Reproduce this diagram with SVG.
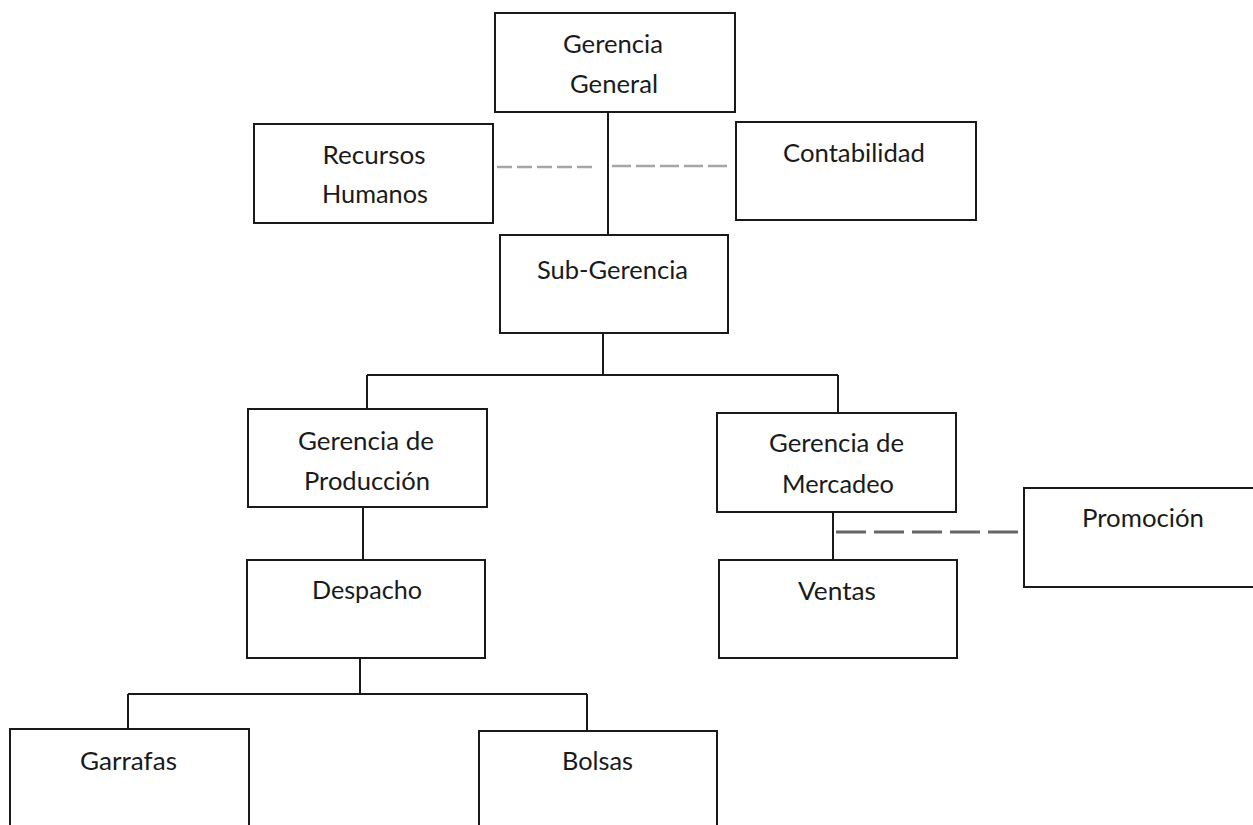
<svg xmlns="http://www.w3.org/2000/svg" width="1253" height="825" viewBox="0 0 1253 825">
<style>
.box{fill:#fff;stroke:#1a1a1a;stroke-width:2}
.t{font-family:Lato,"Open Sans","DejaVu Sans",sans-serif;font-size:25px;fill:#1a1a1a;text-anchor:middle}
.ln{stroke:#1a1a1a;stroke-width:2;fill:none}
.dl{stroke:#a6a6a6;stroke-width:2.5;fill:none}
.dd{stroke:#666;stroke-width:3;fill:none;stroke-dasharray:30 8}
</style>
<rect width="1253" height="825" fill="#fff"/>
<g id="connectors">
<path class="ln" d="M608 112V235"/>
<path class="ln" d="M603 333V375M367 375H838M367 375V409M838 375V413"/>
<path class="ln" d="M363 507V560"/>
<path class="ln" d="M833 512V560"/>
<path class="ln" d="M360 658V694M128 694H587M128 694V729M587 694V731"/>
<path class="dl" d="M497 167H595" stroke-dasharray="15 5"/>
<path class="dl" d="M612 166H728" stroke-dasharray="19 5"/>
<path class="dd" d="M836 532H1019"/>
</g>
<g id="gerencia-general">
<rect class="box" x="495" y="13" width="240" height="99"/>
<text class="t" x="613" y="53" textLength="100" lengthAdjust="spacingAndGlyphs">Gerencia</text>
<text class="t" x="614" y="93" textLength="88" lengthAdjust="spacingAndGlyphs">General</text>
</g>
<g id="recursos-humanos">
<rect class="box" x="254" y="124" width="239" height="99"/>
<text class="t" x="374" y="164" textLength="103" lengthAdjust="spacingAndGlyphs">Recursos</text>
<text class="t" x="375" y="203" textLength="106" lengthAdjust="spacingAndGlyphs">Humanos</text>
</g>
<g id="contabilidad">
<rect class="box" x="736" y="122" width="240" height="98"/>
<text class="t" x="854" y="162" textLength="142" lengthAdjust="spacingAndGlyphs">Contabilidad</text>
</g>
<g id="sub-gerencia">
<rect class="box" x="500" y="235" width="228" height="98"/>
<text class="t" x="612.5" y="279" textLength="151" lengthAdjust="spacingAndGlyphs">Sub-Gerencia</text>
</g>
<g id="gerencia-produccion">
<rect class="box" x="248" y="409" width="239" height="98"/>
<text class="t" x="366" y="450" textLength="136" lengthAdjust="spacingAndGlyphs">Gerencia de</text>
<text class="t" x="367" y="490" textLength="126" lengthAdjust="spacingAndGlyphs">Producción</text>
</g>
<g id="gerencia-mercadeo">
<rect class="box" x="717" y="413" width="239" height="99"/>
<text class="t" x="836.5" y="452" textLength="135" lengthAdjust="spacingAndGlyphs">Gerencia de</text>
<text class="t" x="838" y="493" textLength="112" lengthAdjust="spacingAndGlyphs">Mercadeo</text>
</g>
<g id="promocion">
<rect class="box" x="1024" y="488" width="245" height="99"/>
<text class="t" x="1143" y="527" textLength="122" lengthAdjust="spacingAndGlyphs">Promoción</text>
</g>
<g id="despacho">
<rect class="box" x="247" y="560" width="238" height="98"/>
<text class="t" x="367" y="599" textLength="110" lengthAdjust="spacingAndGlyphs">Despacho</text>
</g>
<g id="ventas">
<rect class="box" x="719" y="560" width="238" height="98"/>
<text class="t" x="837" y="600" textLength="78" lengthAdjust="spacingAndGlyphs">Ventas</text>
</g>
<g id="garrafas">
<rect class="box" x="10" y="729" width="239" height="120"/>
<text class="t" x="128.5" y="770" textLength="97" lengthAdjust="spacingAndGlyphs">Garrafas</text>
</g>
<g id="bolsas">
<rect class="box" x="479" y="731" width="238" height="120"/>
<text class="t" x="597.5" y="770" textLength="71" lengthAdjust="spacingAndGlyphs">Bolsas</text>
</g>
</svg>
